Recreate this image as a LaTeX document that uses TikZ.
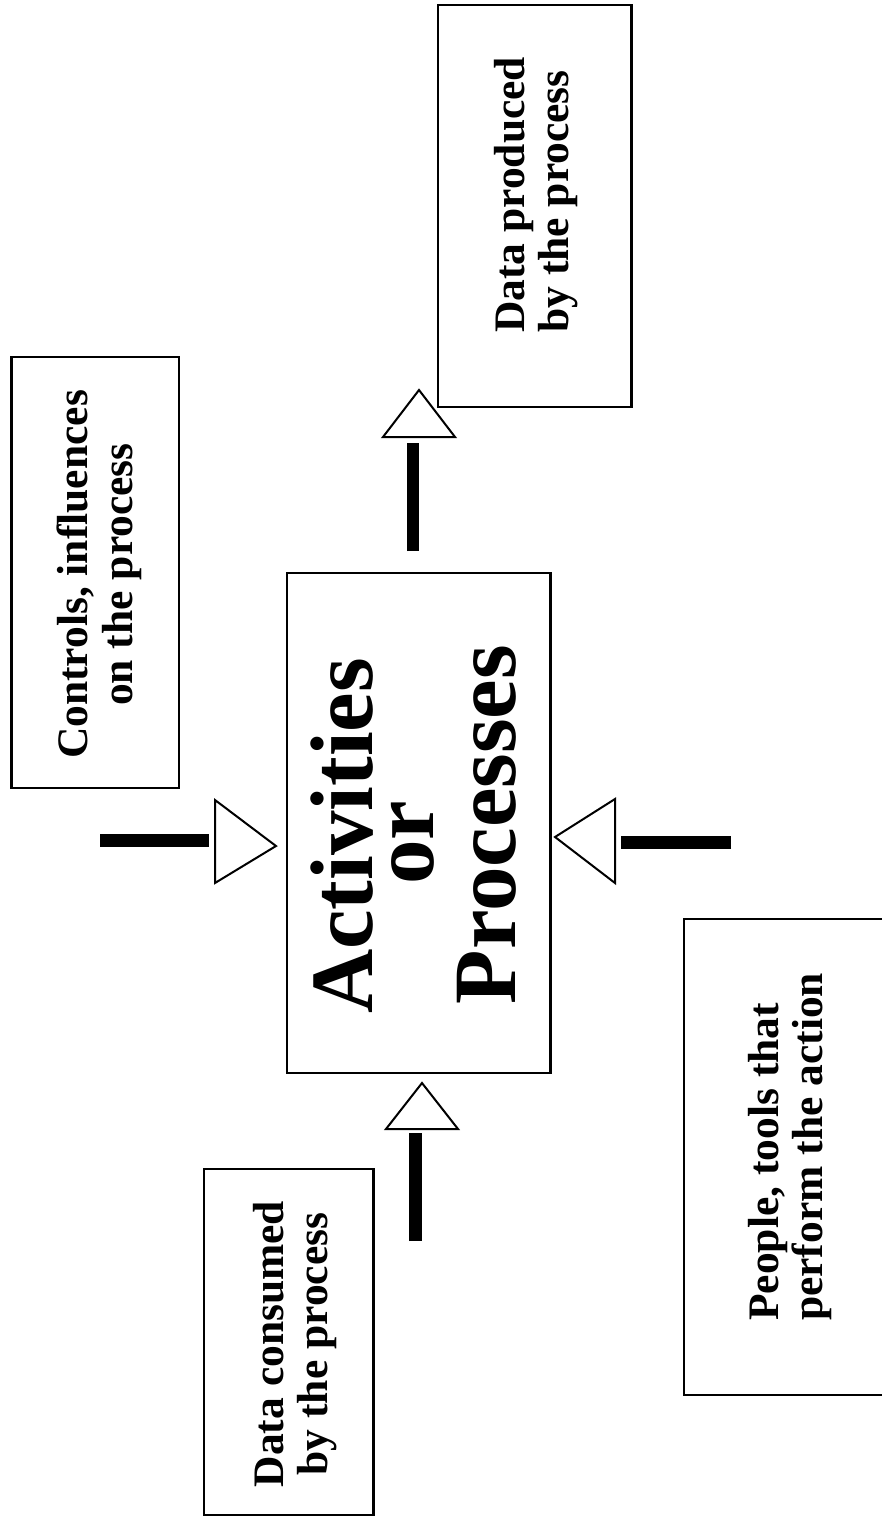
\documentclass[tikz,border=0pt]{standalone}
\usepackage{fontspec}
\setmainfont{Liberation Serif}
\usepackage{graphicx}
\begin{document}
\begin{tikzpicture}[x=1pt,y=-1pt,
  frame/.style={draw, rectangle, line width=2.4pt, inner sep=0pt},
  caption/.style={inner sep=0pt, font=\fontsize{43.5}{44}\selectfont\bfseries},
  bigcaption/.style={inner sep=0pt, font=\fontsize{89}{89}\selectfont\bfseries},
  bar/.style={line width=13pt, line cap=butt},
  head/.style={draw, line width=2pt, fill=white, line join=miter, miter limit=10}]
\useasboundingbox (0,0) rectangle (882,1517);
\fill[white] (0,0) rectangle (882,1517);

% boxes
\node[frame, minimum width=193.5pt, minimum height=402pt] (produced) at (534.75,206) {};
\node[frame, minimum width=167.5pt, minimum height=431pt] (controls) at (95.25,572.5) {};
\node[frame, minimum width=263.5pt, minimum height=500pt] (proc) at (418.75,823) {};
\node[frame, minimum width=169.5pt, minimum height=346pt] (consumed) at (288.75,1342) {};
\node[frame, minimum width=216pt, minimum height=476pt] (people) at (792,1157) {};

% captions, set sideways
\node[caption, anchor=south] (producedtext) at (537.2,333)
  {\rotatebox{90}{\begin{tabular}{@{}l@{}}Data produced\\by the process\end{tabular}}};
\node[caption] (controlstext) at (101.2,574.5)
  {\rotatebox{90}{\begin{tabular}{@{}c@{}}Controls, influences\\on the process\end{tabular}}};
\node[caption] (consumedtext) at (296.2,1344)
  {\rotatebox{90}{\begin{tabular}{@{}c@{}}Data consumed\\by the process\end{tabular}}};
\node[caption, anchor=south] (peopletext) at (791.7,1321)
  {\rotatebox{90}{\begin{tabular}{@{}l@{}}People, tools that\\perform the action\end{tabular}}};
\node[bigcaption] (proctext) at (425.7,830)
  {\rotatebox{90}{\begin{tabular}{@{}c@{}}\makebox[0pt]{\hspace*{-12pt}Activities}\\[-28pt]%
   \makebox[0pt]{\hspace*{-25pt}or}\\[-7pt]%
   \makebox[0pt]{\hspace*{11pt}Processes}\end{tabular}}};

% output arrow (upwards, to the produced data)
\coordinate (outS) at (413,551);
\coordinate (outE) at (413,443);
\draw[bar, line width=12.5pt] (outS) -- (outE);
\draw[head] (419,390) -- (455,437) -- (383,437) -- cycle;

% control arrow (from the left)
\coordinate (ctlS) at (100,840.5);
\coordinate (ctlE) at (209,840.5);
\draw[bar] (ctlS) -- (ctlE);
\draw[head] (276,846) -- (215,883) -- (215,800) -- cycle;

% mechanism arrow (from the right)
\coordinate (mechS) at (731,842.5);
\coordinate (mechE) at (621,842.5);
\draw[bar, line width=13.5pt] (mechS) -- (mechE);
\draw[head] (555,837) -- (615,799) -- (615,883) -- cycle;

% input arrow (from below)
\coordinate (inS) at (415.5,1241);
\coordinate (inE) at (415.5,1133);
\draw[bar] (inS) -- (inE);
\draw[head] (422,1083) -- (458,1129) -- (386,1129) -- cycle;
\end{tikzpicture}
\end{document}
